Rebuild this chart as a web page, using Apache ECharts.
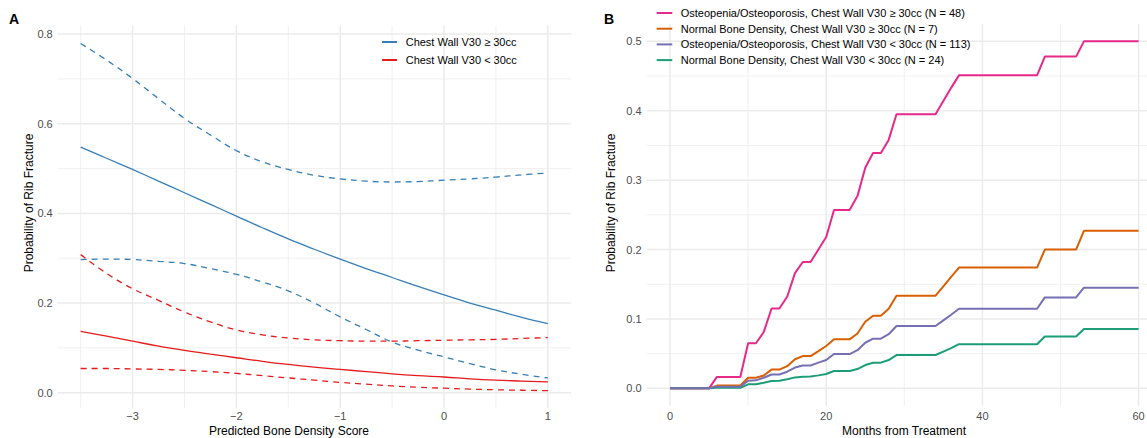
<!DOCTYPE html>
<html>
<head>
<meta charset="utf-8">
<script src="https://cdn.jsdelivr.net/npm/echarts@6/dist/echarts.min.js"></script>
<style>html,body{margin:0;padding:0;background:#fff}#c{width:1147px;height:438px}</style>
</head>
<body>
<div id="c"></div>
<script>
// ---------- Panel A data ----------
const scoreA = [-3.5,-3.25,-3,-2.75,-2.5,-2.25,-2,-1.75,-1.5,-1.25,-1,-0.75,-0.5,-0.25,0,0.25,0.5,0.75,1];
const highFit   = [0.548,0.523,0.498,0.472,0.446,0.420,0.394,0.368,0.343,0.320,0.298,0.277,0.257,0.237,0.218,0.200,0.184,0.168,0.154];
const highUpper = [0.779,0.742,0.701,0.656,0.612,0.575,0.540,0.515,0.498,0.485,0.477,0.472,0.470,0.471,0.474,0.477,0.481,0.486,0.490];
const highLower = [0.297,0.298,0.297,0.293,0.288,0.277,0.264,0.247,0.227,0.200,0.169,0.141,0.113,0.095,0.080,0.065,0.051,0.041,0.033];
const lowFit    = [0.137,0.126,0.115,0.104,0.0945,0.086,0.078,0.070,0.063,0.057,0.052,0.047,0.042,0.038,0.035,0.031,0.028,0.026,0.024];
const lowUpper  = [0.308,0.266,0.232,0.206,0.180,0.158,0.140,0.129,0.122,0.118,0.116,0.115,0.115,0.116,0.117,0.118,0.119,0.121,0.123];
const lowLower  = [0.054,0.054,0.053,0.052,0.050,0.047,0.043,0.038,0.033,0.028,0.023,0.019,0.015,0.012,0.010,0.008,0.0065,0.0055,0.0045];
const xTicksA = [-3,-2,-1,0,1];
const xMinorA = [-3.5,-2.5,-1.5,-0.5,0.5];
const yTicksA = [0,0.2,0.4,0.6,0.8];
const yMinorA = [0.1,0.3,0.5,0.7];
const legendA = ['Chest Wall V30 \u2265 30cc','Chest Wall V30 < 30cc'];

// ---------- Panel B data ----------
const months = [0,1,2,3,4,5,6,7,8,9,10,11,12,13,14,15,16,17,18,19,20,21,22,23,24,25,26,27,28,29,30,31,32,33,34,35,36,37,38,39,40,41,42,43,44,45,46,47,48,49,50,51,52,53,54,55,56,57,58,59,60];
const osteoHigh = [0,0,0,0,0,0,0.0165,0.0165,0.0165,0.0165,0.065,0.065,0.081,0.115,0.115,0.132,0.166,0.182,0.182,0.200,0.218,0.257,0.257,0.257,0.277,0.318,0.339,0.339,0.358,0.395,0.395,0.395,0.395,0.395,0.395,0.414,0.433,0.451,0.451,0.451,0.451,0.451,0.451,0.451,0.451,0.451,0.451,0.451,0.478,0.478,0.478,0.478,0.478,0.5,0.5,0.5,0.5,0.5,0.5,0.5,0.5];
const normHigh  = [0,0,0,0,0,0,0.004,0.004,0.004,0.004,0.0153,0.0153,0.0185,0.027,0.027,0.032,0.042,0.0465,0.0465,0.0537,0.061,0.0706,0.0706,0.0706,0.079,0.096,0.1046,0.1046,0.1147,0.1335,0.1335,0.1335,0.1335,0.1335,0.1335,0.147,0.1605,0.174,0.174,0.174,0.174,0.174,0.174,0.174,0.174,0.174,0.174,0.174,0.200,0.200,0.200,0.200,0.200,0.227,0.227,0.227,0.227,0.227,0.227,0.227,0.227];
const osteoLow  = [0,0,0,0,0,0,0.0023,0.0023,0.0023,0.0023,0.011,0.0115,0.0153,0.020,0.020,0.024,0.030,0.033,0.033,0.037,0.0408,0.0494,0.0494,0.0494,0.055,0.0657,0.0715,0.0715,0.078,0.0898,0.0898,0.0898,0.0898,0.0898,0.0898,0.098,0.106,0.1147,0.1147,0.1147,0.1147,0.1147,0.1147,0.1147,0.1147,0.1147,0.1147,0.1147,0.131,0.131,0.131,0.131,0.131,0.145,0.145,0.145,0.145,0.145,0.145,0.145,0.145];
const normLow   = [0,0,0,0,0,0,0.0008,0.0008,0.0008,0.0008,0.0058,0.006,0.008,0.0105,0.011,0.013,0.0158,0.0167,0.017,0.0187,0.0206,0.025,0.025,0.025,0.0278,0.0336,0.037,0.037,0.0408,0.048,0.048,0.048,0.048,0.048,0.048,0.053,0.058,0.0636,0.0636,0.0636,0.0636,0.0636,0.0636,0.0636,0.0636,0.0636,0.0636,0.0636,0.0748,0.0748,0.0748,0.0748,0.0748,0.0855,0.0855,0.0855,0.0855,0.0855,0.0855,0.0855,0.0855];
const xTicksB = [0,20,40,60];
const xMinorB = [10,30,50];
const yTicksB = [0,0.1,0.2,0.3,0.4,0.5];
const yMinorB = [0.05,0.15,0.25,0.35,0.45];
const legendB = [
  'Osteopenia/Osteoporosis, Chest Wall V30 \u2265 30cc (N = 48)',
  'Normal Bone Density, Chest Wall V30 \u2265 30cc (N = 7)',
  'Osteopenia/Osteoporosis, Chest Wall V30 < 30cc (N = 113)',
  'Normal Bone Density, Chest Wall V30 < 30cc (N = 24)'
];

// ---------- layout / style ----------
const FONT = '"Liberation Sans", Arial, Helvetica, sans-serif';
const LABEL_COLOR = '#4d4d4d';
const GRID_MAJOR = {stroke:'#ebebeb', lineWidth:1.5};
const GRID_MINOR = {stroke:'#ececec', lineWidth:0.8};
const gA = {left:57.3, top:25.6, width:513.9, height:382.7};
const gB = {left:646.6, top:24, width:515.4, height:381.7};
const extA = {xmin:-3.725, xmax:1.225, ymin:-0.0348, ymax:0.8189};
const extB = {xmin:-3, xmax:63, ymin:-0.025, ymax:0.525};

const minus = v => (v < 0 ? '\u2212' + Math.abs(v) : String(v));
const pairs = (xs, ys) => xs.map((x, i) => [x, ys[i]]);

function labelAxis(dim, gi, ext, ticks, fmt, margin) {
  const isX = dim === 'x';
  return {
    gridIndex: gi, type: 'value',
    min: isX ? ext.xmin : ext.ymin, max: isX ? ext.xmax : ext.ymax,
    position: isX ? 'bottom' : 'left',
    axisLine: {show:false}, axisTick: {show:false}, splitLine: {show:false},
    axisLabel: {customValues: ticks, formatter: fmt, color: LABEL_COLOR, fontSize: 11, fontFamily: FONT, margin: margin}
  };
}

// gridlines drawn through the axis scale (api.coord) from the tick arrays
function gridSeries(axisIdx, ext, values, vertical, style) {
  return {
    type: 'custom', xAxisIndex: axisIdx, yAxisIndex: axisIdx, silent: true, z: 0,
    clip: false,
    data: values.map(v => vertical ? [v, ext.ymin] : [ext.xmin, v]),
    renderItem: function (params, api) {
      let p1, p2;
      if (vertical) {
        p1 = api.coord([api.value(0), ext.ymin]);
        p2 = api.coord([api.value(0), ext.ymax]);
      } else {
        p1 = api.coord([ext.xmin, api.value(1)]);
        p2 = api.coord([ext.xmax, api.value(1)]);
      }
      return {type: 'line', shape: {x1: p1[0], y1: p1[1], x2: p2[0], y2: p2[1]}, style: style};
    }
  };
}

const BLUE = '#377eb8', RED = '#e41a1c';
const C_B = ['#e7298a', '#d95f02', '#7570b3', '#1b9e77'];
const DASH = [6, 5];

function lineA(name, ys, color, dashed) {
  return {
    name: name, type: 'line', xAxisIndex: 0, yAxisIndex: 0,
    data: pairs(scoreA, ys), smooth: 0.4, symbol: 'none', color: color,
    lineStyle: {color: color, width: 1.3, type: dashed ? DASH : 'solid'},
    silent: true, z: 3
  };
}
function lineB(name, ys, color, z) {
  return {
    name: name, type: 'line', xAxisIndex: 1, yAxisIndex: 1,
    data: pairs(months, ys), symbol: 'none', color: color,
    lineStyle: {color: color, width: 2}, silent: true, z: z
  };
}

const series = [
  gridSeries(0, extA, xMinorA, true, GRID_MINOR),
  gridSeries(0, extA, yMinorA, false, GRID_MINOR),
  gridSeries(0, extA, xTicksA, true, GRID_MAJOR),
  gridSeries(0, extA, yTicksA, false, GRID_MAJOR),
  gridSeries(1, extB, xMinorB, true, GRID_MINOR),
  gridSeries(1, extB, yMinorB, false, GRID_MINOR),
  gridSeries(1, extB, xTicksB, true, GRID_MAJOR),
  gridSeries(1, extB, yTicksB, false, GRID_MAJOR),
  lineA(legendA[0], highFit, BLUE, false),
  lineA('high upper', highUpper, BLUE, true),
  lineA('high lower', highLower, BLUE, true),
  lineA(legendA[1], lowFit, RED, false),
  lineA('low upper', lowUpper, RED, true),
  lineA('low lower', lowLower, RED, true),
  lineB(legendB[0], osteoHigh, C_B[0], 3),
  lineB(legendB[1], normHigh, C_B[1], 3),
  lineB(legendB[3], normLow, C_B[3], 3),
  lineB(legendB[2], osteoLow, C_B[2], 4)
];

const legendStyle = (lh, pad) => ({fontSize: 11, fontFamily: FONT, color: '#000', lineHeight: lh, padding: [0, 0, 0, pad]});

const option = {
  animation: false,
  backgroundColor: '#ffffff',
  textStyle: {fontFamily: FONT},
  grid: [
    Object.assign({outerBoundsMode: 'none', containLabel: false}, gA),
    Object.assign({outerBoundsMode: 'none', containLabel: false}, gB)
  ],
  xAxis: [
    labelAxis('x', 0, extA, xTicksA, minus, 2.5),
    labelAxis('x', 1, extB, xTicksB, v => String(v), 5)
  ],
  yAxis: [
    labelAxis('y', 0, extA, yTicksA, v => v.toFixed(1), 4.6),
    labelAxis('y', 1, extB, yTicksB, v => v.toFixed(1), 5)
  ],
  legend: [
    {data: legendA, orient: 'vertical', left: 382, top: 33, padding: 0, itemGap: 0,
     icon: 'rect', itemWidth: 15, itemHeight: 2, selectedMode: false,
     textStyle: legendStyle(18, 3.7)},
    {data: legendB, orient: 'vertical', left: 656.7, top: 5.15, padding: 0, itemGap: 0,
     icon: 'rect', itemWidth: 15.6, itemHeight: 2, selectedMode: false,
     textStyle: legendStyle(15.7, 3.4)}
  ],
  graphic: [
    {type:'text', x:14, y:19, style:{text:'A', fontSize:14, fontWeight:'bold', fontFamily:FONT, fill:'#000', align:'center', verticalAlign:'middle'}},
    {type:'text', x:609, y:19, style:{text:'B', fontSize:14, fontWeight:'bold', fontFamily:FONT, fill:'#000', align:'center', verticalAlign:'middle'}},
    {type:'text', x:289, y:430.5, style:{text:'Predicted Bone Density Score', fontSize:12, fontFamily:FONT, fill:'#000', align:'center', verticalAlign:'middle'}},
    {type:'text', x:904, y:430.5, style:{text:'Months from Treatment', fontSize:12, fontFamily:FONT, fill:'#000', align:'center', verticalAlign:'middle'}},
    {type:'text', x:28.8, y:203, rotation: Math.PI/2, style:{text:'Probability of Rib Fracture', fontSize:12, fontFamily:FONT, fill:'#000', align:'center', verticalAlign:'middle'}},
    {type:'text', x:611, y:203, rotation: Math.PI/2, style:{text:'Probability of Rib Fracture', fontSize:12, fontFamily:FONT, fill:'#000', align:'center', verticalAlign:'middle'}}
  ],
  series: series
};

const chart = echarts.init(document.getElementById('c'), null, {renderer: 'svg'});
chart.setOption(option);
</script>
</body>
</html>
